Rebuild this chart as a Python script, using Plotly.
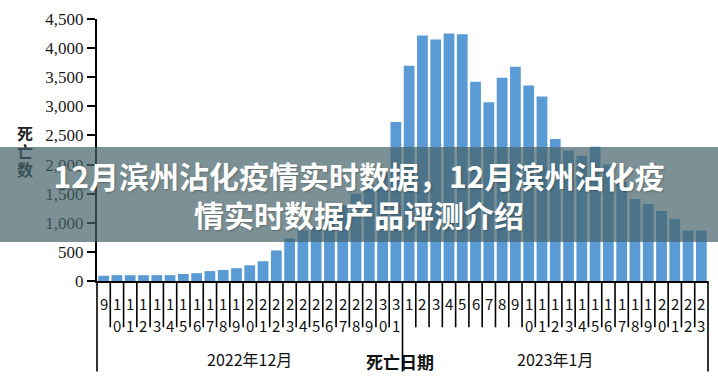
import plotly.graph_objects as go

# ---- data ----
dec_days = list(range(9, 32))
jan_days = list(range(1, 24))
days = dec_days + jan_days
categories = [f"12/{d}" for d in dec_days] + [f"1/{d}" for d in jan_days]
deaths = [90, 100, 100, 100, 100, 100, 120, 135, 170, 190, 220, 270, 340, 525,
          730, 865, 930, 1100, 1300, 1500, 1650, 1850, 2730,
          3695, 4215, 4150, 4250, 4237, 3424, 3068, 3492, 3678, 3356, 3170,
          2441, 2240, 2150, 2305, 2000, 1700, 1407, 1322, 1203, 1068, 865, 865]
y_ticks = list(range(0, 4501, 500))
group_labels = ["2022年12月", "2023年1月"]
x_title = "死亡日期"
y_title = "死亡数"
banner_lines = ["12月滨州沾化疫情实时数据，12月滨州沾化疫", "情实时数据产品评测介绍"]

n = len(categories)
W, H = 718, 388
L, R, T, B = 97, 10, 15, 107
pw, ph = W - L - R, H - T - B

def py(pix):  # pixel row -> paper y
    return (H - B - pix) / ph

def px(pix):
    return (pix - L) / pw

fig = go.Figure()
fig.add_trace(go.Bar(x=categories, y=deaths, marker=dict(color="#5b9bd5", line=dict(width=0)),
                     hoverinfo="x+y"))

shapes = []
split = len(dec_days)
for k in range(n + 1):
    long_line = k in (0, split, n)
    shapes.append(dict(type="line", xref="paper", yref="paper",
                       x0=k / n, x1=k / n, y0=0, y1=py(373 if long_line else 328),
                       line=dict(color="black", width=1.6)))

annotations = []
digit_font = dict(family="Noto Sans CJK SC", size=15, color="#111")
for cat, d in zip(categories, days):
    s = str(d)
    annotations.append(dict(x=cat, xref="x", y=py(303.5), yref="paper", text=s[0],
                            showarrow=False, font=digit_font, xanchor="center", yanchor="middle"))
    if len(s) > 1:
        annotations.append(dict(x=cat, xref="x", y=py(326.5), yref="paper", text=s[1],
                                showarrow=False, font=digit_font, xanchor="center", yanchor="middle"))

grp_font = dict(family="Noto Sans CJK SC", size=16, color="#111")
annotations.append(dict(x=(split / 2) / n, xref="paper", y=py(360), yref="paper", text=group_labels[0],
                        showarrow=False, font=grp_font, xanchor="center", yanchor="middle"))
annotations.append(dict(x=((split + n) / 2) / n, xref="paper", y=py(360), yref="paper", text=group_labels[1],
                        showarrow=False, font=grp_font, xanchor="center", yanchor="middle"))
annotations.append(dict(x=px(400), xref="paper", y=py(363), yref="paper", text="<b>" + x_title + "</b>",
                        showarrow=False, font=dict(family="Noto Sans CJK SC", size=17, color="#111"),
                        xanchor="center", yanchor="middle"))

for i, ch in enumerate(y_title):
    annotations.append(dict(x=px(25), xref="paper", y=py(131 + 18 * i), yref="paper",
                            text="<b>" + ch + "</b>", showarrow=False,
                            font=dict(family="Noto Sans CJK SC", size=16, color="#222"),
                            xanchor="center", yanchor="middle"))

# banner overlay (drawn last so it sits on top)
annotations.append(dict(x=px(359), xref="paper", y=py(193.5), yref="paper",
                        text="<br>".join(banner_lines), showarrow=False,
                        width=730, height=95, borderpad=0, borderwidth=0,
                        bgcolor="rgba(68,98,104,0.70)", align="center", valign="middle",
                        font=dict(family="Noto Sans CJK SC", size=30, color="white", weight="bold",
                                  shadow="1px 1px 2px rgba(0,0,0,0.25)"),
                        xanchor="center", yanchor="middle"))

fig.update_layout(
    width=W, height=H, autosize=False,
    margin=dict(l=L, r=R, t=T, b=B),
    paper_bgcolor="white", plot_bgcolor="white",
    bargap=0.19, showlegend=False,
    shapes=shapes, annotations=annotations,
    xaxis=dict(type="category", categoryorder="array", categoryarray=categories,
               range=[-0.5, n - 0.5], showticklabels=False, ticks="",
               showline=True, linecolor="black", linewidth=2, showgrid=False, zeroline=False,
               fixedrange=True),
    yaxis=dict(range=[0, 4500], tickvals=y_ticks, tickformat=",", ticks="outside",
               ticklen=8, tickwidth=2, tickcolor="black",
               showline=True, linecolor="black", linewidth=2, showgrid=False, zeroline=False,
               tickfont=dict(family="Liberation Serif", size=17, color="#1a1a1a"),
               fixedrange=True),
)

fig.write_html("out.html", config={"displayModeBar": False},
               post_script="document.body.style.margin='0';document.body.style.overflow='hidden';")
